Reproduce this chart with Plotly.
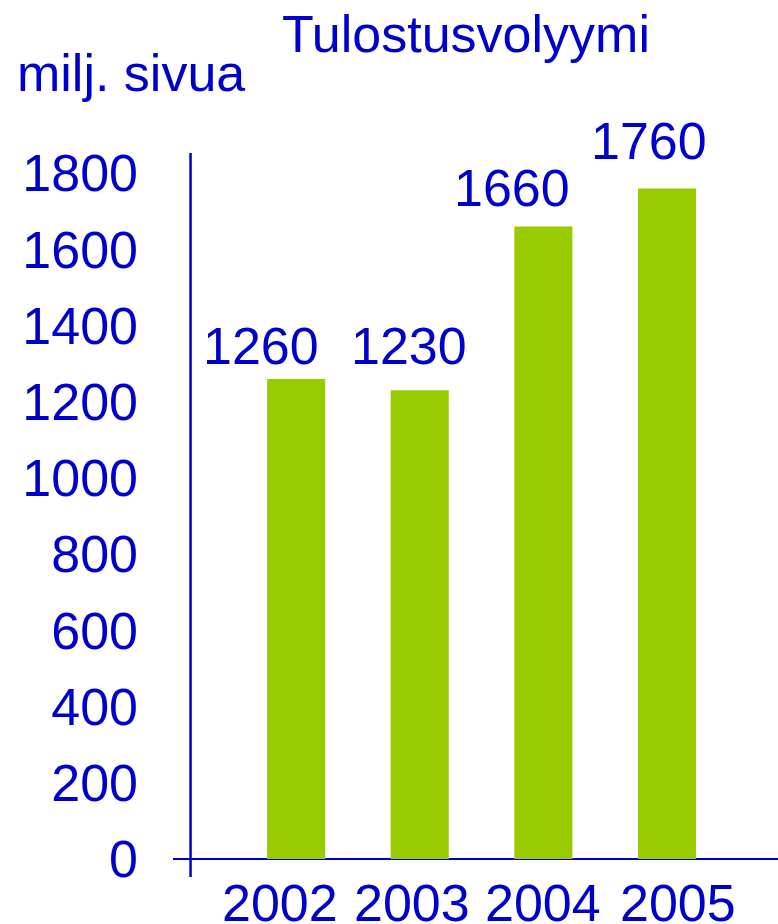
import plotly.graph_objects as go

# ---- data ----
years = ["2002", "2003", "2004", "2005"]
pages_millions = [1260, 1230, 1660, 1760]
value_labels = ["1260", "1230", "1660", "1760"]
y_tick_values = [0, 200, 400, 600, 800, 1000, 1200, 1400, 1600, 1800]
y_tick_labels = ["0", "200", "400", "600", "800", "1000", "1200", "1400", "1600", "1800"]
chart_title = "Tulostusvolyymi"
unit_label = "milj. sivua"

# ---- style ----
BLUE = "#0000CC"
GREEN = "#99CC00"
FONT = "Liberation Sans, Arial, sans-serif"
FS = 52
label_xshift = [-35, -11, -31, -18]
label_yshift = [2, 13, 8, 16]
year_xshift = [-16, -8, 0, 11]

fig = go.Figure()
fig.add_trace(go.Bar(
    x=years, y=pages_millions,
    marker=dict(color=GREEN, line=dict(width=0)),
    width=0.47, hoverinfo="skip",
))

# value labels above bars
for i, (v, t, dx, dy) in enumerate(zip(pages_millions, value_labels, label_xshift, label_yshift)):
    fig.add_annotation(x=i, y=v, xref="x", yref="y", text=t, showarrow=False,
                       xanchor="center", yanchor="bottom", xshift=dx, yshift=dy,
                       font=dict(family=FONT, size=FS, color=BLUE))

# category labels under the axis
for i, (yr, dx) in enumerate(zip(years, year_xshift)):
    fig.add_annotation(x=i, y=0, xref="x", yref="paper", text=yr, showarrow=False,
                       xanchor="center", yanchor="top", xshift=dx, yshift=-6,
                       font=dict(family=FONT, size=FS, color=BLUE))

fig.add_annotation(xref="paper", yref="paper", x=0.1767, y=1.0, yshift=119,
                   text=chart_title, showarrow=False, xanchor="left", yanchor="middle",
                   font=dict(family=FONT, size=FS, color=BLUE))
fig.add_annotation(xref="paper", yref="paper", x=-0.2617, y=1.0, yshift=80,
                   text=unit_label, showarrow=False, xanchor="left", yanchor="middle",
                   font=dict(family=FONT, size=FS, color=BLUE))

# vertical axis line (runs slightly below the zero line)
fig.add_shape(type="line", xref="paper", yref="paper", x0=0.029, x1=0.029, y0=-0.0154, y1=1,
              line=dict(color=BLUE, width=2.5))

fig.update_layout(
    width=778, height=924,
    margin=dict(l=173, r=0, t=153, b=58, pad=0),
    paper_bgcolor="white", plot_bgcolor="white",
    showlegend=False,
    font=dict(family=FONT, size=FS, color=BLUE),
    xaxis=dict(type="category", range=[-0.996, 3.898], showgrid=False, showline=False,
               ticks="", showticklabels=False, automargin=False, fixedrange=True),
    yaxis=dict(range=[-18.4, 1853], showgrid=False, showline=False,
               zeroline=True, zerolinecolor=BLUE, zerolinewidth=2,
               tickvals=y_tick_values, ticktext=y_tick_labels, ticks="",
               tickfont=dict(family=FONT, size=FS, color=BLUE),
               ticklabelstandoff=34, automargin=False, fixedrange=True),
)

fig.write_html(
    "out.html",
    config={"displayModeBar": False, "staticPlot": True},
    post_script="document.body.style.margin='0';document.body.style.overflow='hidden';",
)
